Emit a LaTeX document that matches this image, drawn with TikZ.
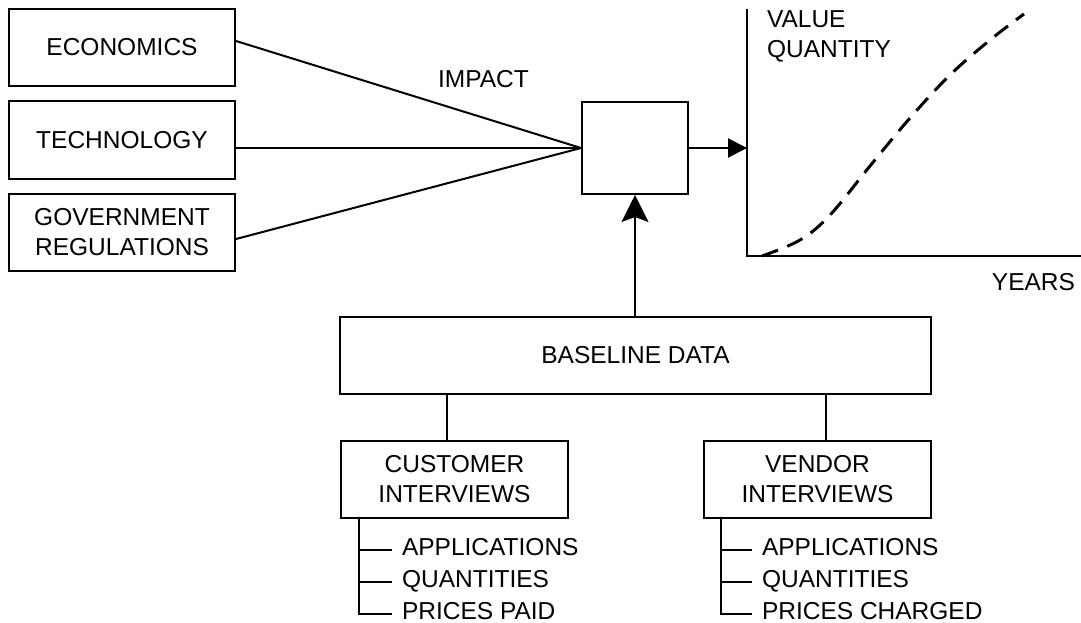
\documentclass[tikz,border=0pt]{standalone}
\usepackage{fontspec}
\setmainfont{Liberation Sans}
\usetikzlibrary{arrows.meta}
\begin{document}
\begin{tikzpicture}[x=1pt,y=-1pt,
  line width=2pt,
  every node/.style={font=\fontsize{24.5}{30}\selectfont, inner sep=0pt},
  box/.style={draw, line width=2pt, align=center, minimum height=77pt},
  item/.style={anchor=base west},
  head/.style={-{Triangle[length=19pt,width=19pt]}},
  uphead/.style={-{Stealth[length=27pt,width=27pt,inset=5pt]}},
  curve/.style={line width=3pt, dash pattern=on 17pt off 10pt}
]
\useasboundingbox (0,0) rectangle (1081,623);

% driving factors
\node[box, minimum width=226pt] (econ) at (122,47.5) {ECONOMICS};
\node[box, minimum width=226pt] (tech) at (122,140) {TECHNOLOGY};
\node[box, minimum width=226pt] (gov) at (122,232.5) {GOVERNMENT\\REGULATIONS};

% central model box
\node[box, minimum width=106pt, minimum height=92pt] (hub) at (635,148) {};
\node[anchor=base] (impact) at (483.5,88) {IMPACT};

\draw ([yshift=6.5pt]econ.east) -- (hub.west);
\draw (tech.east |- hub.west) -- (hub.west);
\draw ([yshift=-6.5pt]gov.east) -- (hub.west);

% forecast graph
\coordinate (ytop) at (747,9);
\coordinate (o) at (747,256);
\coordinate (xend) at (1081,256);
\draw (ytop) -- (o) -- (xend);
\draw[head] (hub.east) -- (hub.east -| o);
\node[align=left, anchor=north west] (vq) at (766,10) {VALUE\\QUANTITY};
\node[anchor=base east] (years) at (1076,290) {YEARS};
\draw[curve] plot[smooth, tension=0.6] coordinates {(762,256) (800,240) (830,215) (870,166) (910,118) (950,75) (990,40) (1024,14)};

% baseline data and its sources
\node[box, minimum width=591pt] (base) at (635.5,355.5) {BASELINE DATA};
\draw[uphead] (hub.south |- base.north) -- (hub.south);

\node[box, minimum width=227pt] (cust) at (454.5,479.5) {CUSTOMER\\INTERVIEWS};
\node[box, minimum width=227pt] (vend) at (817.5,479.5) {VENDOR\\INTERVIEWS};
\draw ([xshift=-8pt]cust.north) -- ([xshift=-8pt]cust.north |- base.south);
\draw ([xshift=8pt]vend.north) -- ([xshift=8pt]vend.north |- base.south);

% customer items
\node[item] (c1) at (401,555) {APPLICATIONS};
\node[item] (c2) at (401,587) {QUANTITIES};
\node[item] (c3) at (401,619) {PRICES PAID};
\coordinate (cb) at ([xshift=19pt]cust.south west);
\coordinate (c1t) at ([yshift=5pt]c1.base west);
\coordinate (c2t) at ([yshift=5pt]c2.base west);
\coordinate (c3t) at ([yshift=5pt]c3.base west);
\draw[shorten >=9pt] (cb) |- (c3t);
\draw[shorten >=9pt] (c1t -| cb) -- (c1t);
\draw[shorten >=9pt] (c2t -| cb) -- (c2t);

% vendor items
\node[item] (v1) at (761,555) {APPLICATIONS};
\node[item] (v2) at (761,587) {QUANTITIES};
\node[item] (v3) at (761,619) {PRICES CHARGED};
\coordinate (vb) at ([xshift=18pt]vend.south west);
\coordinate (v1t) at ([yshift=5pt]v1.base west);
\coordinate (v2t) at ([yshift=5pt]v2.base west);
\coordinate (v3t) at ([yshift=5pt]v3.base west);
\draw[shorten >=9pt] (vb) |- (v3t);
\draw[shorten >=9pt] (v1t -| vb) -- (v1t);
\draw[shorten >=9pt] (v2t -| vb) -- (v2t);
\end{tikzpicture}
\end{document}
